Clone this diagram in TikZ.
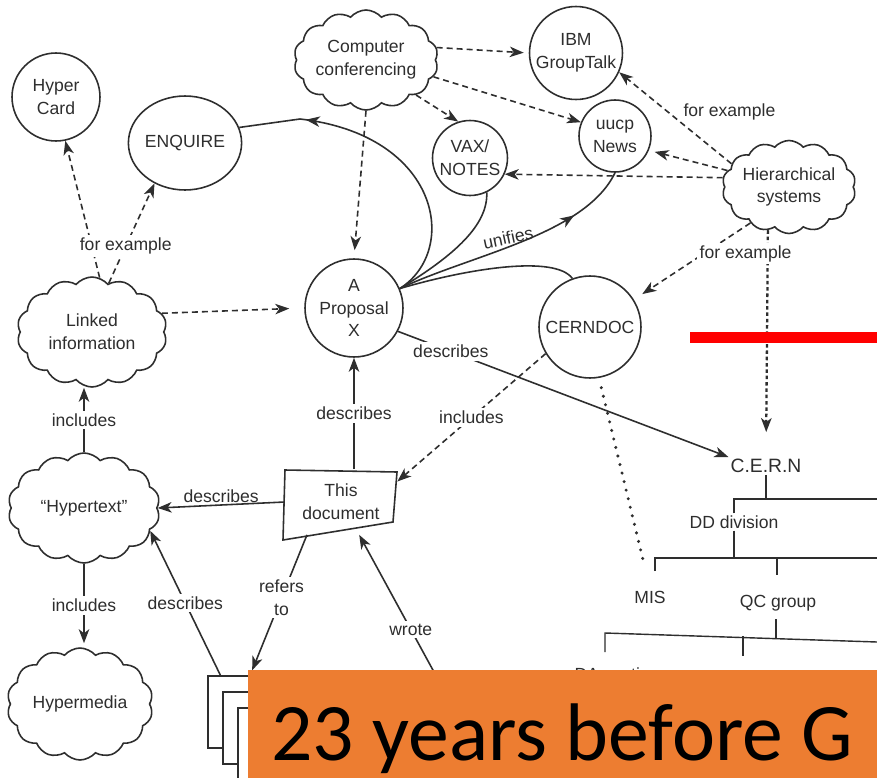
\documentclass[tikz,border=0pt]{standalone}
\usepackage{fontspec}
\setmainfont{Liberation Sans}
\newfontfamily\bannerfont{Carlito}
\usetikzlibrary{arrows.meta,shapes.geometric,shapes.symbols,decorations.markings}
\definecolor{inkgray}{HTML}{2E2E2E}
\definecolor{bannerorange}{HTML}{ED7D31}
\definecolor{flagred}{HTML}{FF0000}

\begin{document}
\begin{tikzpicture}[x=0.02cm, y=-0.02cm,
  every node/.style={font=\fontsize{10}{13}\selectfont, text=inkgray},
  bubble/.style={circle, draw=inkgray, line width=0.9pt, inner sep=0pt, align=center},
  puff/.style={cloud, cloud puffs=14, cloud puff arc=100, cloud ignores aspect, draw=inkgray, line width=0.9pt, inner sep=0pt, align=center},
  wire/.style={line width=0.9pt, draw=inkgray},
  arr/.style={wire, -{Stealth[length=2.8mm, width=2.1mm, inset=0.8mm]}},
  darr/.style={arr, dash pattern=on 3.4pt off 2.3pt},
  midarr/.style={postaction={decorate}, decoration={markings, mark=at position #1 with {\arrow{Stealth[length=2.8mm, width=2.1mm, inset=0.8mm]}}}},
  lbl/.style={fill=white, inner sep=1.5pt},
  branch/.style={line width=0.8pt, draw=inkgray},
  orgtxt/.style={inner sep=1pt}
]
\useasboundingbox (0,0) rectangle (877,778);
\fill[white] (0,0) rectangle (877,778);

% concepts
\node[bubble, minimum size=1.76cm] (hcard) at (56,97) {Hyper\\Card};
\node[ellipse, draw=inkgray, line width=0.9pt, inner sep=0pt, minimum width=2.08cm, minimum height=1.88cm] (enq) at (185,143) {ENQUIRE};
\node[puff, minimum width=2.5cm, minimum height=2cm] (conf) at (366,60) {Computer\\conferencing};
\node[bubble, minimum size=1.86cm] (ibm) at (576,53) {IBM\\GroupTalk};
\node[bubble, minimum size=1.44cm] (uucp) at (615,136) {uucp\\News};
\node[bubble, minimum size=1.5cm] (vax) at (470,158) {VAX/\\NOTES};
\node[puff, minimum width=2.64cm, minimum height=1.86cm] (hier) at (789,187) {Hierarchical\\systems};
\node[puff, minimum width=3cm, minimum height=2.2cm] (linked) at (92,332) {Linked\\information};
\node[bubble, minimum size=1.96cm] (prop) at (354,308) {A\\Proposal\\X};
\node[bubble, minimum size=2.04cm] (cdoc) at (590,327) {CERNDOC};
\node[puff, minimum width=3.04cm, minimum height=2.2cm] (htext) at (84,508) {“Hypertext”};
\node[puff, minimum width=2.92cm, minimum height=2.24cm] (hmedia) at (80,704) {Hypermedia};
\node[align=center, inner sep=0pt, minimum width=2.24cm, minimum height=1.3cm] (doc) at (341,502) {This\\document};
\draw[wire] (285,470) -- (397,472) -- (393,522) -- (283,540) -- cycle;
\foreach \i/\pg in {0/pgA,1/pgB,2/pgC}
  \node[draw=inkgray, fill=white, line width=0.9pt, minimum width=1.7cm, minimum height=1.45cm, anchor=north west] (\pg) at (207+15*\i,675+16*\i) {};

% organisation chart
\node[orgtxt, font=\fontsize{11}{13}\selectfont] (cern) at (766,466) {C.E.R.N};
\node[orgtxt] (dd) at (734,522) {DD division};
\node[orgtxt] (mis) at (650,597) {MIS};
\node[orgtxt] (qc) at (778,603) {QC group};
\node[orgtxt] (da) at (617,674) {DA section};
\draw[branch] (cern.south) -- ++(0,24);
\draw[branch] (dd.north) |- (877,499);
\draw[branch] (dd.south) -- ++(0,28);
\draw[branch] (655,571) |- (877,558);
\draw[branch] (777,558) -- (777,575);
\draw[branch] (776,619) -- (776,638);
\draw[branch] (605,652) -- (605,633) -- (877,642);
\draw[branch] (743,636) -- (743,656);

% links
\draw[darr] (linked.82) -- (hcard.-78);
\draw[darr] (linked.71) -- node[lbl, pos=0.37] {for example} (enq.-127);
\draw[darr, shorten >=0.3cm] (linked.15) -- (prop.west);
\draw[darr, shorten >=0.16cm] (conf.south) -- (prop.north);
\draw[darr, shorten >=0.1cm] (conf.10) -- (ibm.west);
\draw[darr] (conf.-14) -- (uucp.158);
\draw[darr] (conf.-35) -- (vax.108);
\draw[darr] (hier.158) -- node[pos=0.45, anchor=south west, inner sep=1pt] {for example} (ibm.-24);
\draw[darr, shorten >=0.12cm] (hier.165) -- (uucp.-23);
\draw[darr] (hier.172) -- (vax.-25);
\draw[arr, dash pattern=on 2pt off 1.6pt, line width=1.3pt, shorten >=0.5cm] (hier.-116) -- (cern.north);
\draw[darr, shorten >=0.2cm] (hier.-137) -- node[lbl, pos=0.4, anchor=west, xshift=-0.15cm] {for example} (cdoc.32);

\draw[wire, midarr=0.79] (prop.23) .. controls (460,250) and (440,135) .. (300,119) -- (enq.16);
\draw[wire] (prop.23) .. controls (455,255) and (488,225) .. (vax.-64);
\draw[wire, midarr=0.76] (prop.23) .. controls (470,255) and (585,235) .. node[pos=0.45, above, inner sep=1pt, rotate=12] {unifies} (uucp.-90);
\draw[wire] (prop.23) .. controls (470,268) and (555,255) .. (cdoc.110);

\draw[arr] (prop.-28) -- node[lbl, pos=0.16] {describes} (cern.north west);
\draw[arr] (prop.south |- doc.north) -- node[lbl] {describes} (prop.south);
\draw[darr] (cdoc.-149) -- node[lbl] {includes} (doc.20);
\draw[arr] (doc.west) -- node[above, inner sep=1pt] {describes} (htext.east);
\draw[arr] (htext.north) -- node[lbl] {includes} (htext.north |- linked.south);
\draw[arr, shorten >=0.08cm] (htext.south) -- node[lbl] {includes} (htext.south |- hmedia.north);
\draw[arr] (pgA.129) -- node[lbl] {describes} (htext.-19);
\draw[arr, shorten >=0.1cm] (doc.-136) -- node[lbl, pos=0.45, align=center] {refers\\to} (pgA.north);
\coordinate (author) at (482,760);
\draw[arr] (author) -- node[lbl, pos=0.58] {wrote} (doc.-61);
\draw[inkgray, line width=1.9pt, line cap=round, dash pattern=on 0pt off 5pt, shorten <=0.2cm, shorten >=0.46cm] (cdoc.-80) -- (mis.north);

% overlays
\fill[flagred] (690,332) rectangle (877,343);
\fill[bannerorange] (248,670) rectangle (877,778);
\node[anchor=base west, inner sep=0pt, font=\bannerfont\fontsize{46.5}{50}\selectfont, text=black] (banner) at (271,760) {23 years before G};
\end{tikzpicture}
\end{document}
